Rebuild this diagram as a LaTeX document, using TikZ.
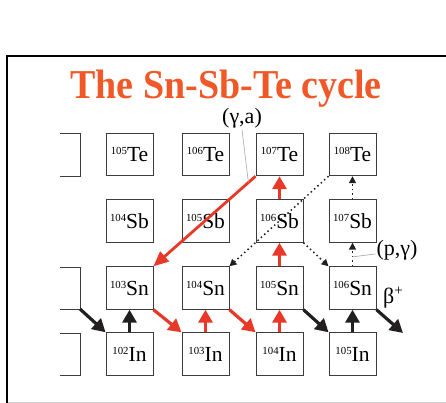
\documentclass[tikz,border=0pt]{standalone}
\usepackage{fontspec}
\setmainfont{Liberation Serif}
\usetikzlibrary{arrows.meta,calc}
\definecolor{titlecol}{RGB}{241,88,40}
\definecolor{redarr}{RGB}{232,56,40}
\definecolor{blkarr}{RGB}{35,31,32}
\definecolor{boxline}{RGB}{60,60,60}
\newcommand{\iso}[2]{\raisebox{6.8pt}{\fontsize{10.8}{11}\selectfont #1}#2}
\tikzset{
  isobox/.style={draw=boxline,line width=0.9pt,minimum width=47pt,minimum height=42.5pt,inner sep=0pt,
    font=\fontsize{21.5}{22}\selectfont},
  bigarr/.style={line width=3.2pt,-{Triangle[length=13pt,width=14pt]}},
  redbig/.style={bigarr,draw=redarr,color=redarr},
  blkbig/.style={bigarr,draw=blkarr,color=blkarr},
  dotarr/.style={line width=1.5pt,dash pattern=on 1.5pt off 3pt,-{Triangle[length=7pt,width=7pt]},draw=blkarr,color=blkarr},
  lbl/.style={font=\fontsize{22}{23}\selectfont,inner sep=0pt},
  pointer/.style={draw=black!35,line width=0.6pt}
}
\begin{document}
\begin{tikzpicture}[x=1pt,y=-1pt]
\useasboundingbox (0,0) rectangle (446,403);
% frame
\draw[line width=2pt,black] (7,56) -- (7,403);
\draw[line width=1.3pt,black] (6,56) -- (446,56);
\draw[line width=1pt,black!18] (8,402) -- (446,402);
% title
\node[anchor=base,text=titlecol,inner sep=0pt,font=\fontsize{38}{40}\selectfont\bfseries] (title) at (226,98.5) {\scalebox{1}[1.08]{The Sn-Sb-Te cycle}};
% partial boxes at the left
\draw[draw=boxline,line width=0.9pt] (60,133) -- (80,133) -- (80,176) -- (60,176);
\draw[draw=boxline,line width=0.9pt] (60,267) -- (80,267) -- (80,309) -- (60,309);
\draw[draw=boxline,line width=0.9pt] (60,333) -- (80,333) -- (80,375) -- (60,375);
\coordinate (sn102c) at (80,309);
% Te row
\node[isobox] (te105) at (129.5,154.5) {\iso{105}{Te}};
\node[isobox] (te106) at (205.5,154.5) {\iso{106}{Te}};
\node[isobox] (te107) at (279.5,154.5) {\iso{107}{Te}};
\node[isobox] (te108) at (352.5,154.5) {\iso{108}{Te}};
% Sb row
\node[isobox] (sb104) at (129.5,221) {\iso{104}{Sb}};
\node[isobox] (sb105) at (205.5,221) {\iso{105}{Sb}};
\node[isobox] (sb106) at (279.5,221) {\iso{106}{Sb}};
\node[isobox] (sb107) at (352.5,221) {\iso{107}{Sb}};
% Sn row
\node[isobox] (sn103) at (129.5,288) {\iso{103}{Sn}};
\node[isobox] (sn104) at (205.5,288) {\iso{104}{Sn}};
\node[isobox] (sn105) at (279.5,288) {\iso{105}{Sn}};
\node[isobox] (sn106) at (352.5,288) {\iso{106}{Sn}};
% In row
\node[isobox] (in102) at (129.5,354) {\iso{102}{In}};
\node[isobox] (in103) at (205.5,354) {\iso{103}{In}};
\node[isobox] (in104) at (279.5,354) {\iso{104}{In}};
\node[isobox] (in105) at (352.5,354) {\iso{105}{In}};
% labels
\node[lbl] (ga) at (242,118.5) {(γ,a)};
\node[lbl] (pg) at (397,250) {(p,γ)};
\node[lbl,anchor=west] (bp) at (383,298) {β\raisebox{8pt}{\fontsize{15}{15}\selectfont +}};
% dotted arrows
\draw[dotarr] (te108.south west) -- (sn104.north east);
\draw[dotarr] (sb106.south east) -- (sn106.north west);
\draw[dotarr] (sn106.north) -- (sb107.south);
\draw[dotarr] (sb107.north) -- (te108.south);
% red arrows
\draw[redbig,line width=2.8pt,-{Triangle[length=15pt,width=13pt]}] (te107.south west) -- (sn103.north east);
\draw[redbig] (sb106.north) -- (te107.south);
\draw[redbig] (sn105.north) -- (sb106.south);
\draw[redbig] (sn103.south east) -- (in103.north west);
\draw[redbig] (in103.north) -- (sn104.south);
\draw[redbig] (sn104.south east) -- (in104.north west);
\draw[redbig] (in104.north) -- (sn105.south);
% black arrows
\coordinate (out) at (403,333);
\draw[blkbig] (sn102c) -- (in102.north west);
\draw[blkbig] (in102.north) -- (sn103.south);
\draw[blkbig] (sn105.south east) -- (in105.north west);
\draw[blkbig] (in105.north) -- (sn106.south);
\draw[blkbig] (sn106.south east) -- (out);
% pointer lines
\draw[pointer] (ga.south) ++(0,1) -- ($(te107.south west)!0.07!(sn103.north east)$);
\draw[pointer] (pg.west) ++(-1,4) -- ($(sn106.north)!0.4!(sb107.south)$);
\end{tikzpicture}
\end{document}
